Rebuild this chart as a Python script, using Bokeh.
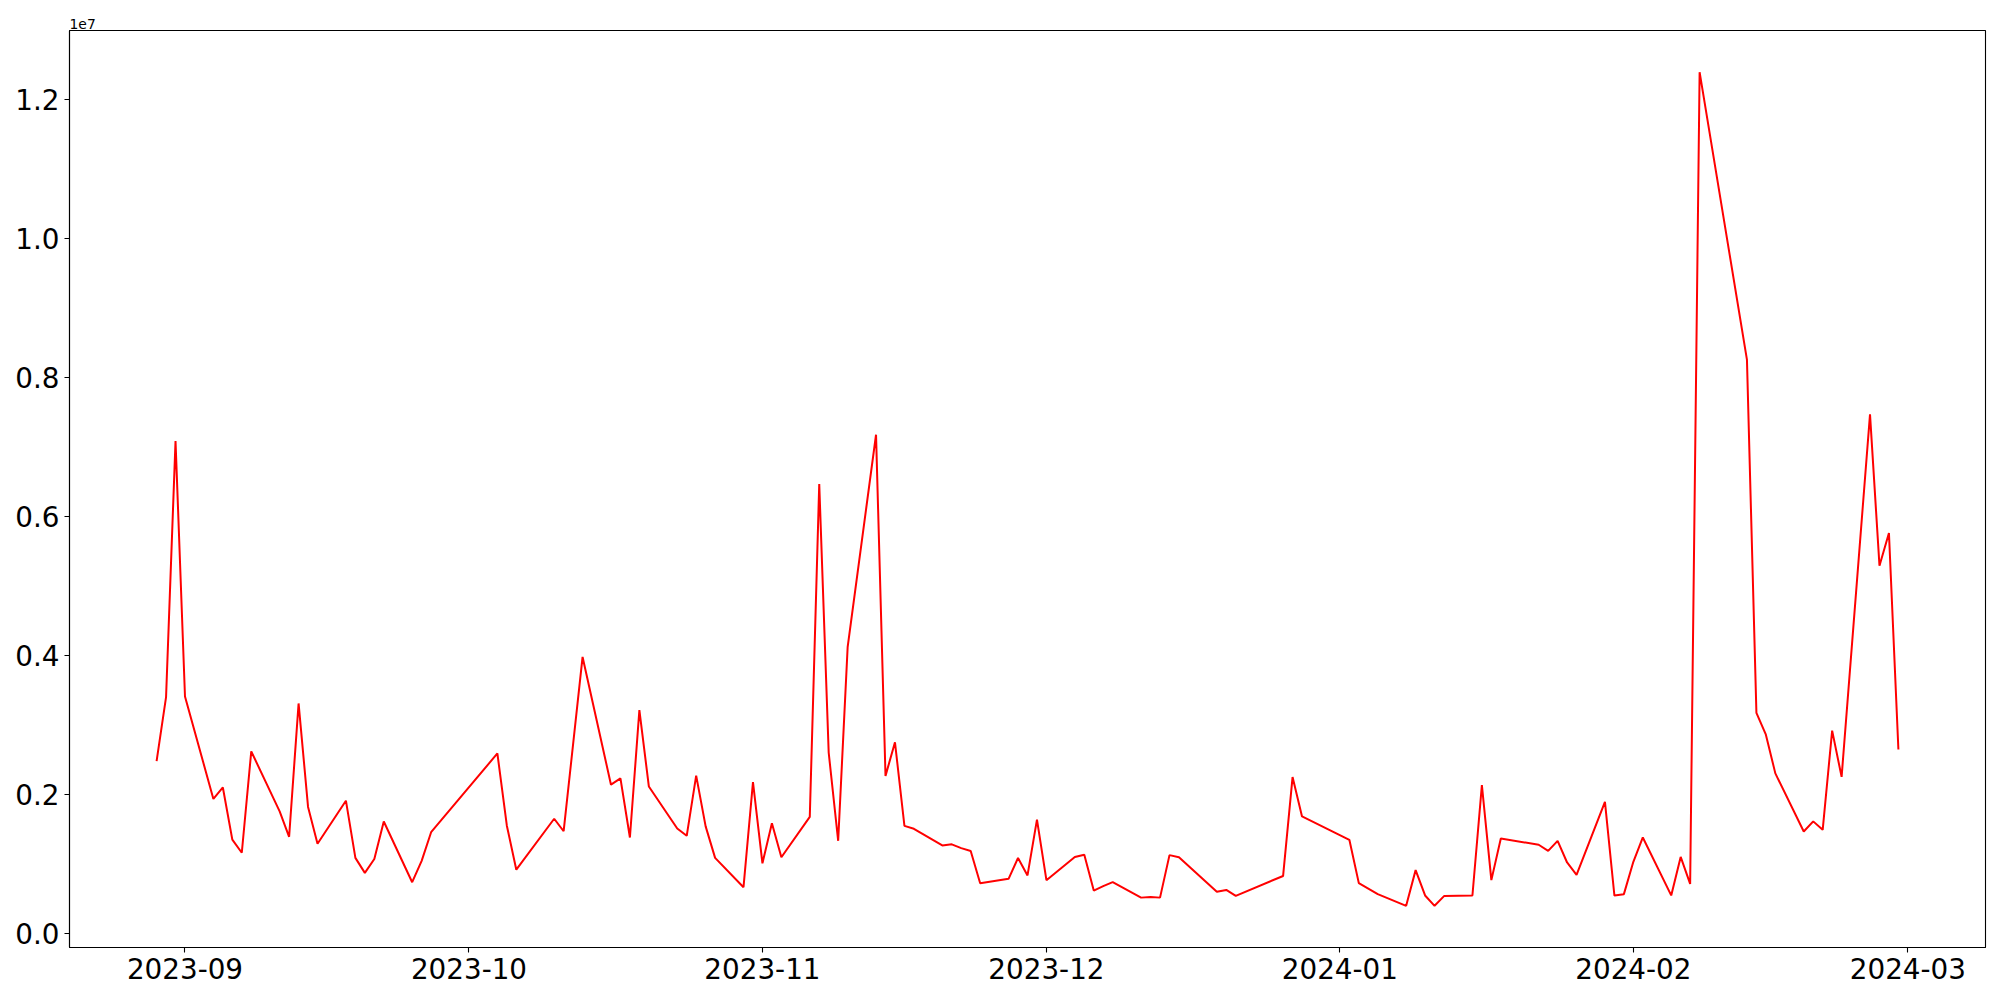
import pandas as pd
from bokeh.plotting import figure
from bokeh.models import Range1d, FixedTicker, DatetimeTickFormatter, CustomJSTickFormatter, Title, ColumnDataSource
from bokeh.embed import file_html
from bokeh.resources import INLINE

dates = [
    "2023-08-29", "2023-08-30", "2023-08-31", "2023-09-01",
    "2023-09-04", "2023-09-05", "2023-09-06", "2023-09-07", "2023-09-08",
    "2023-09-11", "2023-09-12", "2023-09-13", "2023-09-14", "2023-09-15",
    "2023-09-18", "2023-09-19", "2023-09-20", "2023-09-21", "2023-09-22",
    "2023-09-25", "2023-09-26", "2023-09-27",
    "2023-10-04", "2023-10-05", "2023-10-06",
    "2023-10-10", "2023-10-11", "2023-10-13",
    "2023-10-16", "2023-10-17", "2023-10-18", "2023-10-19", "2023-10-20",
    "2023-10-23", "2023-10-24", "2023-10-25", "2023-10-26", "2023-10-27",
    "2023-10-30", "2023-10-31", "2023-11-01", "2023-11-02", "2023-11-03",
    "2023-11-06", "2023-11-07", "2023-11-08", "2023-11-09", "2023-11-10",
    "2023-11-13", "2023-11-14", "2023-11-15", "2023-11-16", "2023-11-17",
    "2023-11-20", "2023-11-21", "2023-11-22", "2023-11-23", "2023-11-24",
    "2023-11-27", "2023-11-28", "2023-11-29", "2023-11-30", "2023-12-01",
    "2023-12-04", "2023-12-05", "2023-12-06", "2023-12-07", "2023-12-08",
    "2023-12-11", "2023-12-12", "2023-12-13", "2023-12-14", "2023-12-15",
    "2023-12-19", "2023-12-20", "2023-12-21",
    "2023-12-26", "2023-12-27", "2023-12-28",
    "2024-01-02", "2024-01-03", "2024-01-05",
    "2024-01-08", "2024-01-09", "2024-01-10", "2024-01-11", "2024-01-12",
    "2024-01-15", "2024-01-16", "2024-01-17", "2024-01-18",
    "2024-01-22", "2024-01-23", "2024-01-24", "2024-01-25", "2024-01-26",
    "2024-01-29", "2024-01-30", "2024-01-31", "2024-02-01", "2024-02-02",
    "2024-02-05", "2024-02-06", "2024-02-07", "2024-02-08",
    "2024-02-13", "2024-02-14", "2024-02-15", "2024-02-16",
    "2024-02-19", "2024-02-20", "2024-02-21", "2024-02-22", "2024-02-23",
    "2024-02-26", "2024-02-27", "2024-02-28", "2024-02-29",
]

volume = [
    2480000, 3400000, 7090000, 3410000,
    1935000, 2100000, 1350000, 1160000, 2620000,
    1755000, 1390000, 3310000, 1820000, 1290000,
    1910000, 1086000, 870000, 1070000, 1610000,
    736000, 1044000, 1456000,
    2590000, 1550000, 916000,
    1650000, 1470000, 3980000,
    2140000, 2230000, 1380000, 3215000, 2115000,
    1510000, 1404000, 2270000, 1540000, 1086000,
    664000, 2176000, 1008000, 1585000, 1096000,
    1677000, 6470000, 2600000, 1332000, 4120000,
    7180000, 2267000, 2750000, 1547000, 1505000,
    1265000, 1281000, 1227000, 1186000, 722000,
    785000, 1085000, 834000, 1638000, 765000,
    1100000, 1132000, 615000, 679000, 737000,
    514000, 524000, 514000, 1126000, 1094000,
    599000, 625000, 540000,
    826000, 2250000, 1683000,
    1347000, 723000, 565000,
    396000, 910000, 545000, 396000, 536000,
    545000, 2135000, 766000, 1366000,
    1275000, 1188000, 1332000, 1020000, 843000,
    1894000, 543000, 564000, 1030000, 1380000,
    546000, 1100000, 711000, 12400000,
    8260000, 3175000, 2860000, 2303000,
    1466000, 1612000, 1490000, 2918000, 2253000,
    7473000, 5294000, 5764000, 2646000,
]

month_ticks = ["2023-09-01", "2023-10-01", "2023-11-01", "2023-12-01",
               "2024-01-01", "2024-02-01", "2024-03-01"]
y_ticks = [0, 2000000, 4000000, 6000000, 8000000, 10000000, 12000000]

x = pd.to_datetime(dates)
src = ColumnDataSource(dict(x=x, y=volume))

def ms(ts):
    return pd.Timestamp(ts).value / 1e6

x0, x1 = ms(x.min()), ms(x.max())
xs = x1 - x0
y0, y1 = min(volume), max(volume)
ys = y1 - y0

p = figure(
    frame_width=1916, frame_height=917,
    min_border_left=69, min_border_right=15, min_border_top=30, min_border_bottom=53,
    x_axis_type="datetime",
    x_range=Range1d(x0 - 0.05 * xs, x1 + 0.05 * xs),
    y_range=Range1d(y0 - 0.05 * ys, y1 + 0.05 * ys),
    output_backend="svg", toolbar_location=None,
    background_fill_color="white", border_fill_color="white",
)
p.line("x", "y", source=src, line_color="#ff0000", line_width=2)

p.xgrid.visible = False
p.ygrid.visible = False
p.outline_line_color = "black"
p.outline_line_width = 1.1
p.outline_line_alpha = 1

p.xaxis.ticker = FixedTicker(ticks=[ms(t) for t in month_ticks])
fmt = "%Y-%m"
p.xaxis.formatter = DatetimeTickFormatter(
    milliseconds=fmt, seconds=fmt, minsec=fmt, minutes=fmt, hourmin=fmt,
    hours=fmt, days=fmt, months=fmt, years=fmt)
p.yaxis.ticker = FixedTicker(ticks=y_ticks)
p.yaxis.formatter = CustomJSTickFormatter(code="return (tick / 1e7).toFixed(1);")

for ax in (p.xaxis, p.yaxis):
    ax.axis_line_color = "black"
    ax.axis_line_width = 1.1
    ax.major_tick_line_color = "black"
    ax.major_tick_line_width = 1.1
    ax.major_tick_out = 5
    ax.major_tick_in = 0
    ax.minor_tick_line_color = None
    ax.major_label_text_font = "DejaVu Sans"
    ax.major_label_text_font_size = "27.8px"
    ax.major_label_text_color = "black"
    ax.major_label_standoff = 5

offset_title = Title(text="1e7", align="left", text_font="DejaVu Sans",
                     text_font_size="13.9px", text_font_style="normal",
                     text_color="black", standoff=4, offset=0)
p.add_layout(offset_title, "above")

open("out.html", "w").write(file_html(p, INLINE))
